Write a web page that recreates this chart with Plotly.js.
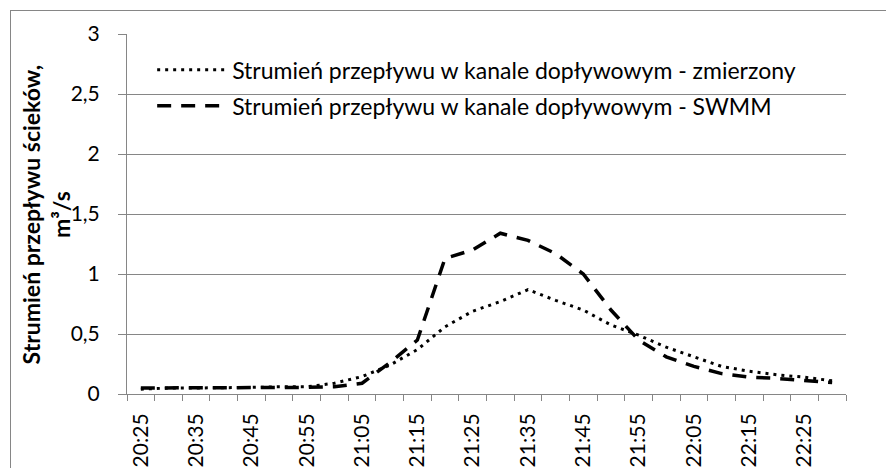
<!DOCTYPE html>
<html>
<head>
<meta charset="utf-8">
<script src="https://cdn.plot.ly/plotly-3.0.1.min.js"></script>
<style>
  html, body { margin: 0; padding: 0; background: #fff; }
  #wrap { position: relative; width: 886px; height: 468px; overflow: hidden; }
  #chart { position: absolute; left: 0; top: 0; width: 886px; height: 468px; }
  #frame { position: absolute; left: 10px; top: 10px; width: 900px; height: 500px;
           border: 1px solid #868686; pointer-events: none; }
</style>
</head>
<body>
<div id="wrap">
  <div id="chart"></div>
  <div id="frame"></div>
</div>
<script>
// Time categories (5-minute steps)
const times = ["20:25","20:30","20:35","20:40","20:45","20:50","20:55","21:00","21:05","21:10",
               "21:15","21:20","21:25","21:30","21:35","21:40","21:45","21:50","21:55","22:00",
               "22:05","22:10","22:15","22:20","22:25","22:30"];
// Tick labels shown (every other category)
const tickLabels = times.map((t, i) => (i % 2 === 0 ? t : ""));

// Measured inflow (dotted)
const measured = [0.04,0.05,0.05,0.05,0.055,0.06,0.06,0.09,0.145,0.24,
                  0.37,0.56,0.69,0.77,0.87,0.78,0.70,0.575,0.49,0.39,
                  0.31,0.23,0.19,0.16,0.14,0.11];
// SWMM model (dashed)
const swmm = [0.05,0.05,0.05,0.05,0.055,0.055,0.055,0.06,0.09,0.26,
              0.45,1.13,1.20,1.34,1.28,1.17,1.00,0.70,0.45,0.31,
              0.23,0.17,0.14,0.13,0.11,0.095];

const seriesNames = ["Strumień przepływu w kanale dopływowym - zmierzony",
                     "Strumień przepływu w kanale dopływowym - SWMM"];
const yTitle = "Strumień przepływu ścieków,<br>m³/s";

const FONT = "Lato, 'Open Sans', sans-serif";
const FS = 23;
const TFS = 21;

const traces = [
  { x: times, y: measured, type: "scatter", mode: "lines", name: seriesNames[0],
    line: { color: "#000", width: 3, dash: "3px,5px" }, legendgroup: "a" },
  { x: times, y: swmm, type: "scatter", mode: "lines", name: seriesNames[1],
    line: { color: "#000", width: 3.5, dash: "14px,10px" }, legendgroup: "b" }
];

const layout = {
  width: 886, height: 468,
  margin: { l: 127, r: 40, t: 34, b: 74, pad: 0 },
  paper_bgcolor: "rgba(0,0,0,0)",
  plot_bgcolor: "#fff",
  separators: ", ",
  font: { family: FONT, size: FS, color: "#000" },
  showlegend: true,
  legend: {
    x: 0.035, y: 0.96, xanchor: "left", yanchor: "top",
    bgcolor: "rgba(0,0,0,0)", borderwidth: 0,
    font: { family: FONT, size: FS, color: "#000" },
    traceorder: "grouped", tracegroupgap: 3, itemwidth: 70
  },
  xaxis: {
    type: "category", range: [-0.5, 25.5],
    tickmode: "array", tickvals: times, ticktext: tickLabels,
    tickangle: -90, tickson: "boundaries",
    ticks: "outside", ticklen: 6, tickcolor: "#868686", tickwidth: 1,
    ticklabelstandoff: 10,
    showline: true, linecolor: "#868686", linewidth: 1,
    showgrid: false, zeroline: false,
    automargin: false,
    tickfont: { family: FONT, size: TFS, color: "#000" }
  },
  yaxis: {
    range: [0, 3], dtick: 0.5, tick0: 0,
    ticks: "outside", ticklen: 8, tickcolor: "#868686", tickwidth: 1,
    ticklabelstandoff: 14,
    showline: true, linecolor: "#868686", linewidth: 1,
    showgrid: true, gridcolor: "#868686", gridwidth: 1,
    zeroline: false, automargin: false,
    tickfont: { family: FONT, size: TFS, color: "#000" }
  },
  annotations: [{
    text: "<b>" + yTitle + "</b>", textangle: -90,
    xref: "paper", yref: "paper", x: -0.112, y: 0.5,
    xanchor: "center", yanchor: "middle", showarrow: false,
    font: { family: FONT, size: 23, color: "#000" }
  }]
};

Plotly.newPlot("chart", traces, layout, { displayModeBar: false, staticPlot: true });
</script>
</body>
</html>
